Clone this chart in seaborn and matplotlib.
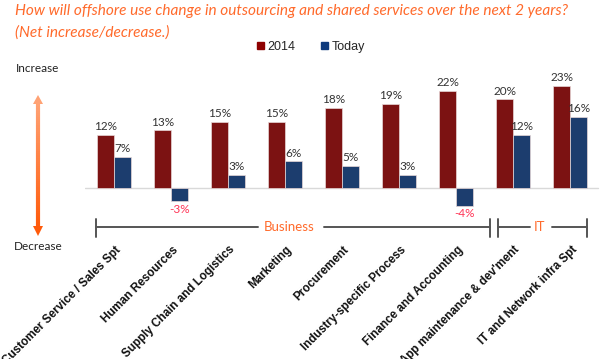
import numpy as np
import pandas as pd
import seaborn as sns
import matplotlib.pyplot as plt
from matplotlib.patches import Patch, Polygon
from matplotlib.collections import LineCollection
from matplotlib.colors import to_rgb

categories = ['Customer Service / Sales Spt', 'Human Resources', 'Supply Chain and Logistics',
              'Marketing', 'Procurement', 'Industry-specific Process', 'Finance and Accounting',
              "App maintenance & dev'ment", 'IT and Network infra Spt']
vals_2014 = [12, 13, 15, 15, 18, 19, 22, 20, 23]
vals_today = [7, -3, 3, 6, 5, 3, -4, 12, 16]
series = ['2014', 'Today']
groups = [('Business', 0, 6), ('IT', 7, 8)]

df = pd.DataFrame({
    'Category': categories * 2,
    'Series': ['2014'] * len(categories) + ['Today'] * len(categories),
    'Value': vals_2014 + vals_today,
})

sns.set_theme(style='white')
plt.rcParams['font.family'] = ['Lato', 'DejaVu Sans']

red = '#8E0000'
blue = '#0E3A7C'
orange = '#FF6A2B'

fig = plt.figure(figsize=(6, 3.59), dpi=100)
# main axes placed in pixel terms: x 85..600, y 70..240
ax = fig.add_axes([85 / 600, 1 - 240 / 359, 515 / 600, 170 / 359])
sns.barplot(data=df, x='Category', y='Value', hue='Series', hue_order=series,
            palette=[red, blue], width=0.58, legend=False, ax=ax,
            edgecolor='#E8D8D8', linewidth=0.5)
ax.set_xlim(-0.509, 8.526)
ax.set_ylim(-11.74, 26.64)
ax.axis('off')
ax.axhline(0, xmin=0, xmax=0.996, color='#D9D9D9', lw=1, zorder=0)

# value labels
for cont in ax.containers:
    for p in cont:
        v = p.get_height()
        x = p.get_x() + p.get_width() / 2
        if v >= 0:
            ax.annotate(f'{v:.0f}%', (x, v), xytext=(0, 2), textcoords='offset points',
                        ha='center', va='bottom', fontsize=8.5, color='#333333')
        else:
            ax.annotate(f'{v:.0f}%', (x, v), xytext=(0, -2), textcoords='offset points',
                        ha='center', va='top', fontsize=8.5, color='#FF3355')

# category labels, rotated
for i, c in enumerate(categories):
    ax.text(i + 0.09, -0.047, c, transform=ax.get_xaxis_transform(), rotation=45,
            rotation_mode='anchor', ha='right', va='center', fontsize=8.4,
            fontweight='bold', family='Liberation Sans', color='#111111')

# group brackets
gc = '#555555'
ylev, ytop, ybot = -8.8, -7.0, -11.0
lw = 1.4
bx0 = groups[0][1] - 0.32
bx1 = groups[0][2] + 0.6
ix0 = groups[1][1] - 0.26
ix1 = groups[1][2] + 0.3
bmid = (groups[0][1] + groups[0][2]) / 2 + 0.08
imid = (groups[1][1] + groups[1][2]) / 2 - 0.03
kw = dict(color=gc, lw=lw, clip_on=False)
ax.plot([bx0, bx0], [ytop, ybot], **kw)
ax.plot([bx0, bmid - 0.55], [ylev, ylev], **kw)
ax.plot([bmid + 0.6, bx1], [ylev, ylev], **kw)
ax.plot([bx1, bx1], [ytop, ybot], **kw)
ax.plot([ix0, ix0], [ytop, ybot], **kw)
ax.plot([ix0, imid - 0.18], [ylev, ylev], **kw)
ax.plot([imid + 0.22, ix1], [ylev, ylev], **kw)
ax.plot([ix1, ix1], [ytop, ybot], **kw)
ax.text(bmid, ylev, groups[0][0], ha='center', va='center', color=orange, fontsize=9.5)
ax.text(imid, ylev, groups[1][0], ha='center', va='center', color=orange, fontsize=9.5)

# overlay axes in pixel coordinates for annotations
ov = fig.add_axes([0, 0, 1, 1], zorder=-1)
ov.set_xlim(0, 600)
ov.set_ylim(359, 0)
ov.axis('off')

ov.text(15, 11, 'How will offshore use change in outsourcing and shared services over the next 2 years?',
        ha='left', va='center', fontsize=11.1, style='italic', color=orange)
ov.text(15, 33, '(Net increase/decrease.)', ha='left', va='center', fontsize=11.1,
        style='italic', color=orange)

ov.text(38, 69, 'Increase', ha='center', va='center', fontsize=8.5, color='#222222')
ov.text(38, 246, 'Decrease', ha='center', va='center', fontsize=8.5, color='#222222')

# gradient double arrow
ys = np.linspace(102, 228, 60)
c0, c1 = np.array(to_rgb('#FFA274')), np.array(to_rgb('#FF5A0A'))
segs = [[(38, ys[k]), (38, ys[k + 1])] for k in range(len(ys) - 1)]
cols = [c0 + (c1 - c0) * k / (len(segs) - 1) for k in range(len(segs))]
ov.add_collection(LineCollection(segs, colors=cols, linewidths=3))
ov.add_patch(Polygon([(33, 104), (43, 104), (38, 95)], closed=True, color='#FFA274', lw=0))
ov.add_patch(Polygon([(33, 226), (43, 226), (38, 236)], closed=True, color='#FF5A0A', lw=0))

handles = [Patch(color=red, label='2014'), Patch(color=blue, label='Today')]
fig.legend(handles=handles, loc='center', bbox_to_anchor=(311 / 600, 1 - 47 / 359), ncol=2,
           frameon=False, handlelength=0.55, handleheight=0.55, handletextpad=0.3,
           columnspacing=2.0, prop={'family': 'Liberation Sans', 'size': 9})

fig.savefig('out.png', dpi=100)
